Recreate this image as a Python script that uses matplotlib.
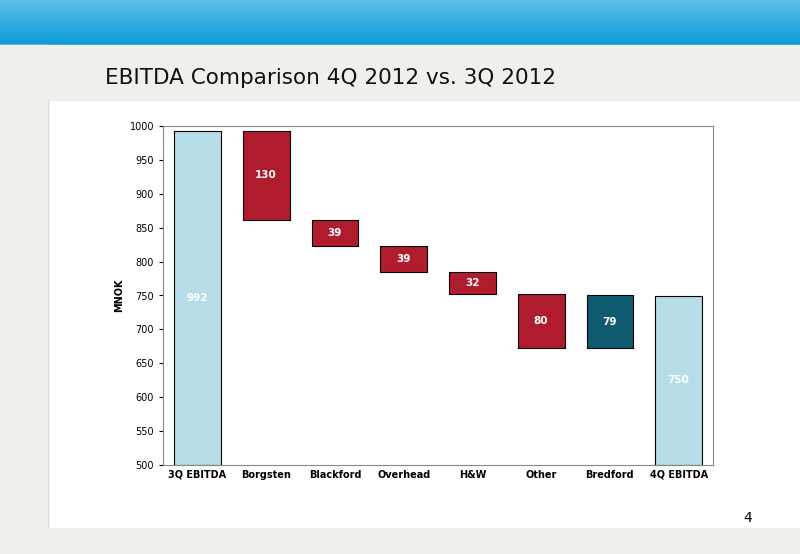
import matplotlib
matplotlib.use("Agg")
import matplotlib.pyplot as plt
import numpy as np

categories = ["3Q EBITDA", "Borgsten", "Blackford", "Overhead", "H&W", "Other", "Bredford", "4Q EBITDA"]
tops = [992, 992, 862, 823, 784, 752, 751, 750]
bottoms = [500, 862, 823, 784, 752, 672, 672, 500]
labels = ["992", "130", "39", "39", "32", "80", "79", "750"]
colors = ["#b7dde8", "#b01c2e", "#b01c2e", "#b01c2e", "#b01c2e", "#b01c2e", "#0f5b70", "#b7dde8"]
label_colors = ["white"] * 8

fig = plt.figure(figsize=(8, 5.54), dpi=100)
fig.patch.set_facecolor("white")

# background decorations
bg = fig.add_axes([0, 0, 1, 1], zorder=-10)
bg.set_xlim(0, 800); bg.set_ylim(554, 0); bg.axis("off")
grad = np.linspace(0, 1, 50).reshape(-1, 1)
bg.imshow(grad, extent=[0, 800, 45, 0], cmap=matplotlib.colors.LinearSegmentedColormap.from_list("g", ["#5cc0ea", "#0d9ad6"]), aspect="auto")
bg.add_patch(plt.Rectangle((0, 45), 800, 55, color="#efefec"))
bg.add_patch(plt.Rectangle((0, 45), 48, 509, color="#efefec"))
bg.add_patch(plt.Rectangle((0, 528), 800, 26, color="#efefec"))
bg.plot([48, 48], [100, 528], color="#dcdcd8", lw=1)
bg.text(105, 78, "EBITDA Comparison 4Q 2012 vs. 3Q 2012", fontsize=15.5, va="center", color="#111111")
bg.text(748, 518, "4", fontsize=10, ha="center", va="center")

ax = fig.add_axes([163/800, 1-465/554, 550/800, 339/554])
x = np.arange(len(categories))
h = [t - b for t, b in zip(tops, bottoms)]
ax.bar(x, h, bottom=bottoms, width=0.68, color=colors, edgecolor="black", linewidth=0.8)
for i in range(len(x)):
    ax.text(x[i], bottoms[i] + h[i] / 2, labels[i], color=label_colors[i], ha="center", va="center", fontsize=7.5, fontweight="bold")
ax.set_xlim(-0.5, len(x) - 0.5)
ax.set_ylim(500, 1000)
ax.set_yticks(range(500, 1001, 50))
ax.set_xticks(x)
ax.set_xticklabels(categories, fontsize=7, fontweight="bold")
ax.tick_params(axis="y", labelsize=7, length=3)
ax.tick_params(axis="x", length=0)
ax.set_ylabel("MNOK", fontsize=7, fontweight="bold")
for s in ax.spines.values():
    s.set_color("#888888")

fig.savefig("out.png", dpi=100)
